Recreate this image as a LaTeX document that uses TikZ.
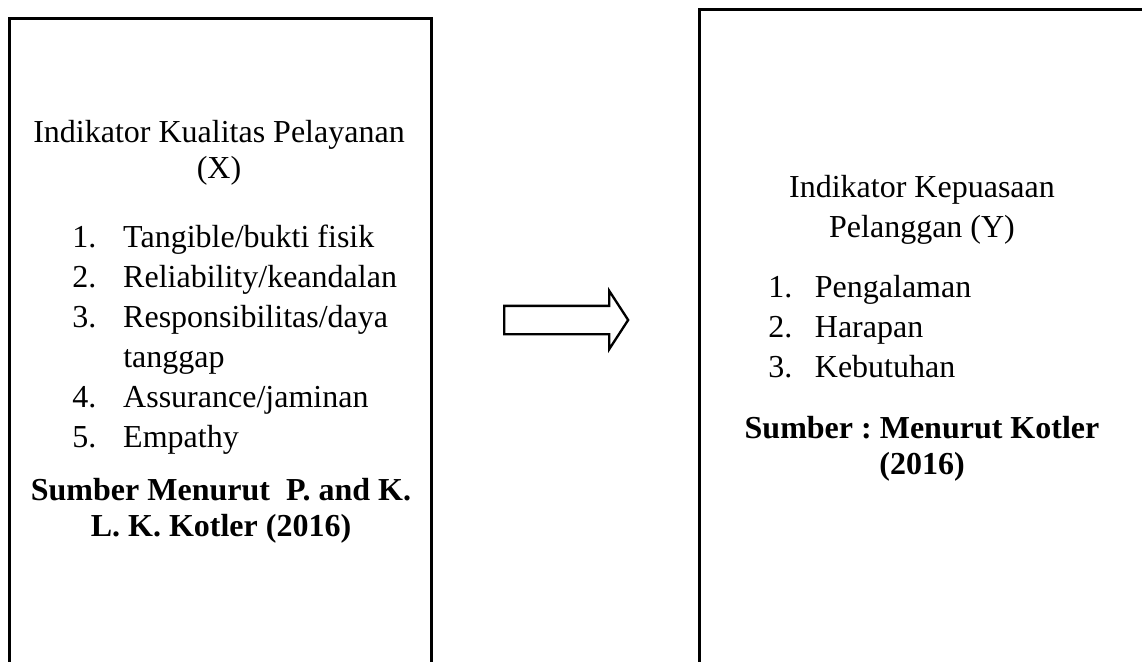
\documentclass[tikz,border=0pt]{standalone}
\usepackage{fontspec}
\setmainfont{Liberation Serif}
\usetikzlibrary{shapes.arrows}
\tikzset{
	panel/.style = {draw=black, line width=2pt, rectangle, inner sep=0pt,
		anchor=north west},% kotak indikator
	headtext/.style = {anchor=base, inner sep=0pt,
		font=\fontsize{24}{#1}\selectfont\frenchspacing},% judul kotak
	listtext/.style = {anchor=base west, inner sep=0pt,
		font=\fontsize{24}{30}\selectfont\frenchspacing},% daftar indikator
	srctext/.style = {anchor=base, inner sep=0pt,
		font=\fontsize{24}{27}\selectfont\bfseries\frenchspacing},% sumber
	bigarrow/.style = {single arrow, draw=black, line width=1.75pt,
		inner xsep=0pt, inner ysep=9.75pt, minimum height=93pt,
		minimum width=42pt, single arrow head extend=11.25pt,
		single arrow tip angle=114}% panah X ke Y
}
\begin{document}
\begin{tikzpicture}[x=0.75pt, y=-0.75pt]
	\clip (0,0) rectangle (1142,661);
	% kotak kiri, variabel X
	\node[panel, minimum width=316.5pt, minimum height=525pt] (boxX) at (8,17) {};
	\node[headtext=27.5pt] (headX) at (219,142)
		{\begin{tabular}[t]{@{}c@{}}Indikator Kualitas Pelayanan\\(X)\end{tabular}};
	\node[listtext] (listX) at (72,247)
		{\begin{tabular}[t]{@{}p{38.25pt}@{}l@{}}
			1. & Tangible/bukti fisik\\
			2. & Reliability/keandalan\\
			3. & Responsibilitas/daya\\
			   & tanggap\\
			4. & Assurance/jaminan\\
			5. & Empathy
		\end{tabular}};
	\node[srctext] (srcX) at (221,500)
		{\begin{tabular}[t]{@{}c@{}}Sumber Menurut\ \ P. and K.\\L. K. Kotler (2016)\end{tabular}};
	% kotak kanan, variabel Y
	\node[panel, minimum width=337.5pt, minimum height=525pt] (boxY) at (698,8) {};
	\node[headtext=30pt] (headY) at (922,197)
		{\begin{tabular}[t]{@{}c@{}}Indikator Kepuasaan\\Pelanggan (Y)\end{tabular}};
	\node[listtext] (listY) at (768,297)
		{\begin{tabular}[t]{@{}p{35pt}@{}l@{}}
			1. & Pengalaman\\
			2. & Harapan\\
			3. & Kebutuhan
		\end{tabular}};
	\node[srctext] (srcY) at (922,438)
		{\begin{tabular}[t]{@{}c@{}}Sumber : Menurut Kotler\\(2016)\end{tabular}};
	% panah
	\node[bigarrow, anchor=tail] (arrXY) at (503,320) {};
\end{tikzpicture}
\end{document}
